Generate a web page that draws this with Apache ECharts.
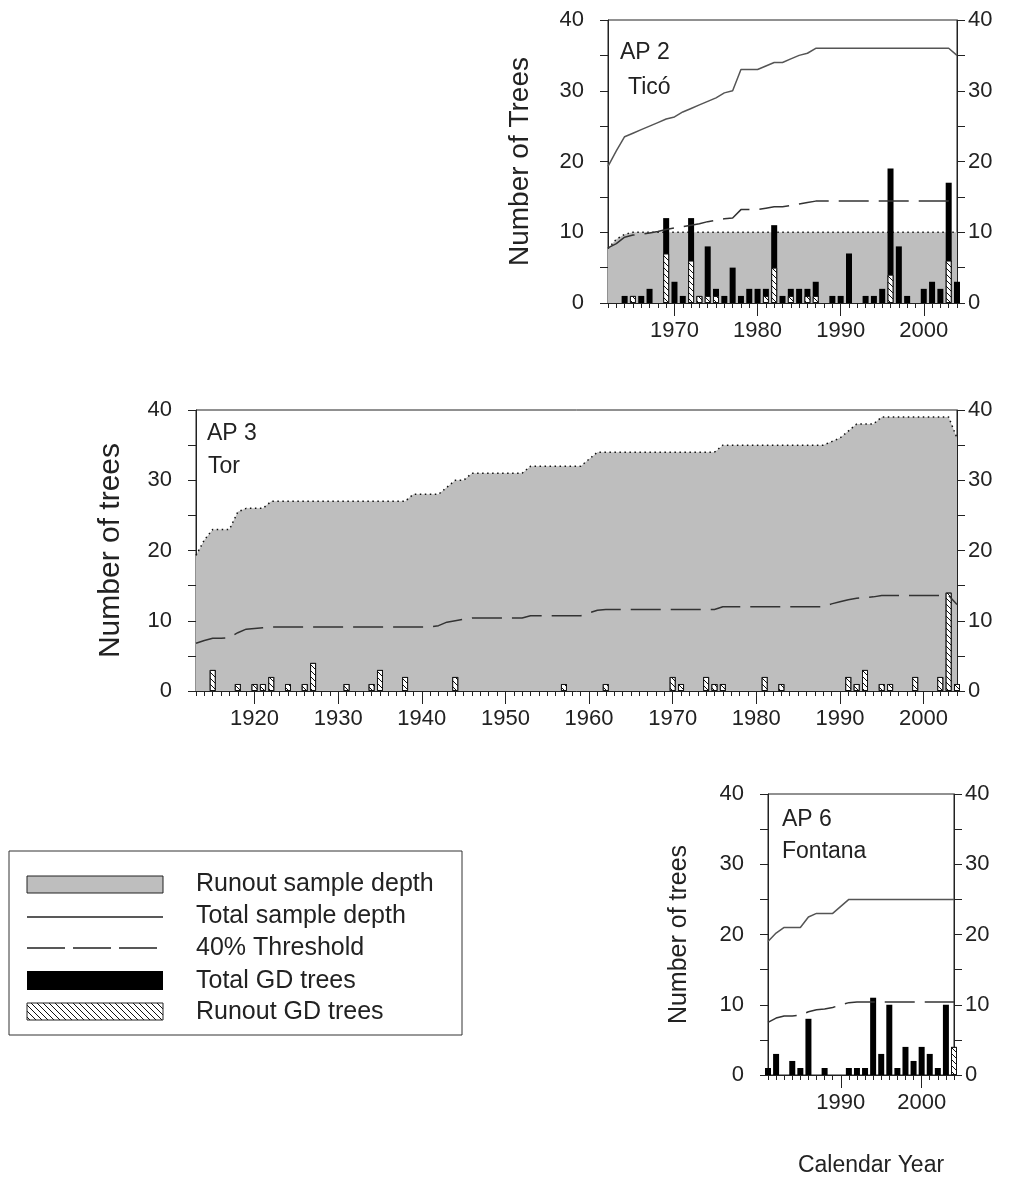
<!DOCTYPE html>
<html>
<head>
<meta charset="utf-8">
<title>Number of trees</title>
<script src="https://cdn.jsdelivr.net/npm/echarts@6/dist/echarts.min.js"></script>
<style>
	html, body { margin: 0; padding: 0; background: #fff; }
	#main { width: 1014px; height: 1185px; }
</style>
</head>
<body>
<div id="main"></div>
<script>
// ---- data ----
// AP 2 Ticó, 1962-2004
const ap2Years = [1962, 2004];
const ap2Total = [19.3, 21.5, 23.5, 24, 24.5, 25, 25.5, 26, 26.3, 27,
	27.5, 28, 28.5, 29, 29.7, 30, 33, 33, 33, 33.5,
	34, 34, 34.5, 35, 35.3, 36, 36, 36, 36, 36,
	36, 36, 36, 36, 36, 36, 36, 36, 36, 36,
	36, 36, 35];
const ap2Threshold = [7.8, 8.4, 9.3, 9.6, 9.7, 9.9, 10.1, 10.4, 10.6, 10.8,
	11.0, 11.2, 11.5, 11.7, 11.9, 12.0, 13.2, 13.2, 13.2, 13.4,
	13.6, 13.6, 13.8, 14.0, 14.2, 14.4, 14.4, 14.4, 14.4, 14.4,
	14.4, 14.4, 14.4, 14.4, 14.4, 14.4, 14.4, 14.4, 14.4, 14.4,
	14.4, 14.4, 14.1];
const ap2Runout = [7.7, 9.0, 9.7, 10, 10, 10, 10, 10, 10, 10,
	10, 10, 10, 10, 10, 10, 10, 10, 10, 10,
	10, 10, 10, 10, 10, 10, 10, 10, 10, 10,
	10, 10, 10, 10, 10, 10, 10, 10, 10, 10,
	10, 10, 10];
const ap2TotalGD = [[1964, 1], [1965, 1], [1966, 1], [1967, 2], [1969, 12], [1970, 3], [1971, 1],
	[1972, 12], [1973, 1], [1974, 8], [1975, 2], [1976, 1], [1977, 5], [1978, 1], [1979, 2],
	[1980, 2], [1981, 2], [1982, 11], [1983, 1], [1984, 2], [1985, 2], [1986, 2], [1987, 3],
	[1989, 1], [1990, 1], [1991, 7], [1993, 1], [1994, 1], [1995, 2], [1996, 19], [1997, 8],
	[1998, 1], [2000, 2], [2001, 3], [2002, 2], [2003, 17], [2004, 3]];
const ap2RunoutGD = [[1965, 1], [1969, 7], [1972, 6], [1973, 1], [1974, 1], [1975, 1],
	[1981, 1], [1982, 5], [1984, 1], [1986, 1], [1987, 1], [1996, 4], [2003, 6]];

// AP 3 Tor, 1913-2004 (all trees belong to the runout)
const ap3Years = [1913, 2004];
const ap3Depth = [19.3, 21.5, 23, 23, 23, 25.5, 26, 26, 26, 27,
	27, 27, 27, 27, 27, 27, 27, 27, 27, 27, 27, 27, 27, 27, 27, 27,
	28, 28, 28, 28, 29, 30, 30,
	31, 31, 31, 31, 31, 31, 31,
	32, 32, 32, 32, 32, 32, 32,
	33,
	34, 34, 34, 34, 34, 34, 34, 34, 34, 34, 34, 34, 34, 34, 34,
	35, 35, 35, 35, 35, 35, 35, 35, 35, 35, 35, 35, 35,
	35.5, 36, 37, 38, 38, 38,
	39, 39, 39, 39, 39, 39, 39, 39, 39,
	36];
const ap3Threshold = [6.8, 7.2, 7.5, 7.5, 7.6, 8.3, 8.8, 8.9, 9.0, 9.1,
	9.1, 9.1, 9.1, 9.1, 9.1, 9.1, 9.1, 9.1, 9.1, 9.1, 9.1, 9.1, 9.1, 9.1, 9.1, 9.1, 9.1, 9.1, 9.1,
	9.3, 9.8, 10.0, 10.2,
	10.4, 10.4, 10.4, 10.4, 10.4, 10.4, 10.4,
	10.7, 10.7, 10.7, 10.7, 10.7, 10.7, 10.7,
	11.1, 11.5,
	11.6, 11.6, 11.6, 11.6, 11.6, 11.6, 11.6, 11.6, 11.6, 11.6, 11.6, 11.6, 11.6, 11.6,
	12.0, 12.0, 12.0, 12.0, 12.0, 12.0, 12.0, 12.0, 12.0, 12.0, 12.0, 12.0, 12.0,
	12.4, 12.7, 13.0, 13.2, 13.3, 13.4,
	13.6, 13.6, 13.6, 13.6, 13.6, 13.6, 13.6, 13.6, 13.6,
	12.3];
const ap3GD = [[1915, 3], [1918, 1], [1920, 1], [1921, 1], [1922, 2], [1924, 1], [1926, 1],
	[1927, 4], [1931, 1], [1934, 1], [1935, 3], [1938, 2], [1944, 2], [1957, 1], [1962, 1],
	[1970, 2], [1971, 1], [1974, 2], [1975, 1], [1976, 1], [1981, 2], [1983, 1], [1991, 2],
	[1992, 1], [1993, 3], [1995, 1], [1996, 1], [1999, 2], [2002, 2], [2003, 14], [2004, 1]];

// AP 6 Fontana, 1981-2004
const ap6Years = [1981, 2004];
const ap6Total = [19, 20.2, 21, 21, 21, 22.5, 23, 23, 23, 24,
	25, 25, 25, 25, 25, 25, 25, 25, 25, 25,
	25, 25, 25, 25];
const ap6Threshold = [7.5, 8.1, 8.4, 8.4, 8.5, 9.0, 9.3, 9.4, 9.6, 10.0,
	10.3, 10.4, 10.4, 10.4, 10.4, 10.4, 10.4, 10.4, 10.4, 10.4,
	10.4, 10.4, 10.4, 10.4];
const ap6TotalGD = [[1981, 1], [1982, 3], [1984, 2], [1985, 1], [1986, 8], [1988, 1], [1991, 1],
	[1992, 1], [1993, 1], [1994, 11], [1995, 3], [1996, 10], [1997, 1], [1998, 4], [1999, 2],
	[2000, 4], [2001, 3], [2002, 1], [2003, 10], [2004, 4]];
const ap6RunoutGD = [[2004, 4]];

const yTicks = [0, 40, 5];   // min, max, step; labels every 10

// ---- helpers ----
const ink = '#222';
const font = 'Liberation Sans, Arial, sans-serif';

function yearList(span) {
	var out = [];
	for (var y = span[0]; y <= span[1]; y++) out.push(String(y));
	return out;
}
function pairs(list) {
	return list.map(function (d) { return [String(d[0]), d[1]]; });
}
function isDecade(index, value) {
	return Number(value) % 10 === 0;
}

// hatch for runout GD trees
var hatch = document.createElement('canvas');
hatch.width = 6;
hatch.height = 6;
var hctx = hatch.getContext('2d');
hctx.fillStyle = '#fff';
hctx.fillRect(0, 0, 6, 6);
hctx.strokeStyle = '#111';
hctx.lineWidth = 1;
for (var k = -1; k <= 1; k++) {
	hctx.beginPath();
	hctx.moveTo(0, k * 6);
	hctx.lineTo(6, 6 + k * 6);
	hctx.stroke();
}
var hatchFill = { image: hatch, repeat: 'repeat' };

// panel layout
const panels = [
	{ left: 608, top: 20, width: 349, height: 283, years: yearList(ap2Years),
		yName: 'Number of Trees', nameGap: 74, nameSize: 28 },
	{ left: 196, top: 410, width: 761, height: 281, years: yearList(ap3Years),
		yName: 'Number of trees', nameGap: 70, nameSize: 30 },
	{ left: 768, top: 794, width: 186, height: 281, years: yearList(ap6Years),
		yName: 'Number of trees', nameGap: 76, nameSize: 25 }
];

var grid = [], xAxis = [], yAxis = [];
panels.forEach(function (p, i) {
	grid.push({
		left: p.left, top: p.top, width: p.width, height: p.height,
		show: true, borderColor: ink, borderWidth: 1, backgroundColor: 'transparent',
		outerBoundsMode: 'none', containLabel: false
	});
	xAxis.push({
		type: 'category', gridIndex: i, data: p.years, boundaryGap: false, position: 'bottom',
		axisLine: { show: true, onZero: false, lineStyle: { color: ink, width: 1 } },
		axisTick: { show: true, interval: 0, length: 5, lineStyle: { color: ink } },
		axisLabel: { show: false },
		splitLine: { show: false }
	});
	xAxis.push({
		type: 'category', gridIndex: i, data: p.years, boundaryGap: false, position: 'bottom',
		axisLine: { show: false, onZero: false },
		axisTick: { show: true, interval: isDecade, length: 13, lineStyle: { color: ink } },
		axisLabel: { show: true, interval: isDecade, margin: 17, fontSize: 22, color: ink, fontFamily: font },
		splitLine: { show: false }
	});
	var yBase = {
		type: 'value', gridIndex: i, min: yTicks[0], max: yTicks[1], interval: yTicks[2],
		axisLine: { show: true, lineStyle: { color: ink, width: 1 } },
		axisTick: { show: true, length: 8, lineStyle: { color: ink } },
		splitLine: { show: false }
	};
	yAxis.push(Object.assign({}, yBase, {
		position: 'left',
		axisLabel: { margin: 24, fontSize: 22, color: ink, fontFamily: font,
			formatter: function (v) { return v % 10 === 0 ? v : ''; } },
		name: p.yName, nameLocation: 'middle', nameGap: p.nameGap,
		nameTextStyle: { fontSize: p.nameSize, color: ink, fontFamily: font }
	}));
	yAxis.push(Object.assign({}, yBase, {
		position: 'right',
		axisLabel: { margin: 11, fontSize: 22, color: ink, fontFamily: font,
			formatter: function (v) { return v % 10 === 0 ? v : ''; } }
	}));
});

function areaSeries(i, data) {
	return {
		type: 'line', xAxisIndex: 2 * i, yAxisIndex: 2 * i, data: data, symbol: 'none',
		lineStyle: { color: '#111', width: 1.5, type: [1.5, 3.5] },
		areaStyle: { color: '#bebebe', opacity: 1 },
		z: 1, silent: true
	};
}
function barSeries(i, data, hatched) {
	return {
		type: 'bar', xAxisIndex: 2 * i, yAxisIndex: 2 * i, data: pairs(data),
		barWidth: 6, barGap: '-100%',
		itemStyle: hatched
			? { color: hatchFill, borderColor: '#111', borderWidth: 1 }
			: { color: '#000' },
		z: 3, silent: true
	};
}
function lineSeries(i, data, dashed) {
	return {
		type: 'line', xAxisIndex: 2 * i, yAxisIndex: 2 * i, data: data, symbol: 'none',
		lineStyle: dashed
			? { color: '#333', width: 1.5, type: [30, 10] }
			: { color: '#555', width: 1.5 },
		z: 4, silent: true
	};
}

var series = [
	areaSeries(0, ap2Runout),
	barSeries(0, ap2TotalGD, false),
	barSeries(0, ap2RunoutGD, true),
	lineSeries(0, ap2Threshold, true),
	lineSeries(0, ap2Total, false),

	areaSeries(1, ap3Depth),
	barSeries(1, ap3GD, false),
	barSeries(1, ap3GD, true),
	lineSeries(1, ap3Threshold, true),

	barSeries(2, ap6TotalGD, false),
	barSeries(2, ap6RunoutGD, true),
	lineSeries(2, ap6Threshold, true),
	lineSeries(2, ap6Total, false)
];

// panel captions and legend box
function label(x, y, text, size, align) {
	return {
		type: 'text', x: x, y: y, silent: true,
		style: { text: text, fill: ink, font: size + 'px ' + font, align: align || 'left', verticalAlign: 'middle' }
	};
}
var legendRows = [884, 916, 948, 981, 1012];
var legendText = ['Runout sample depth', 'Total sample depth', '40% Threshold', 'Total GD trees', 'Runout GD trees'];
var graphic = [
	label(620, 53, 'AP 2', 23), label(628, 88, 'Ticó', 23),
	label(207, 434, 'AP 3', 23), label(208, 467, 'Tor', 23),
	label(782, 820, 'AP 6', 23), label(782, 852, 'Fontana', 23),
	label(871, 1166, 'Calendar Year', 23, 'center'),
	{ type: 'rect', silent: true, shape: { x: 9, y: 851, width: 453, height: 184 },
		style: { fill: '#fff', stroke: '#333', lineWidth: 1 } },
	{ type: 'rect', silent: true, shape: { x: 27, y: 876, width: 136, height: 17 },
		style: { fill: '#bebebe', stroke: '#222', lineWidth: 1 } },
	{ type: 'line', silent: true, shape: { x1: 27, y1: 917, x2: 163, y2: 917 },
		style: { stroke: '#222', lineWidth: 1.5 } },
	{ type: 'line', silent: true, shape: { x1: 27, y1: 948, x2: 163, y2: 948 },
		style: { stroke: '#222', lineWidth: 1.5, lineDash: [38, 8] } },
	{ type: 'rect', silent: true, shape: { x: 27, y: 971, width: 136, height: 19 },
		style: { fill: '#000' } },
	{ type: 'rect', silent: true, shape: { x: 27, y: 1003, width: 136, height: 17 },
		style: { fill: hatchFill, stroke: '#222', lineWidth: 1 } }
];
legendRows.forEach(function (y, i) {
	graphic.push(label(196, y, legendText[i], 25));
});

var chartDom = document.getElementById('main');
var myChart = echarts.init(chartDom, null, { renderer: 'canvas' });
var option = {
	animation: false,
	backgroundColor: '#fff',
	textStyle: { fontFamily: font },
	grid: grid,
	xAxis: xAxis,
	yAxis: yAxis,
	series: series,
	graphic: graphic
};
option && myChart.setOption(option);
</script>
</body>
</html>
